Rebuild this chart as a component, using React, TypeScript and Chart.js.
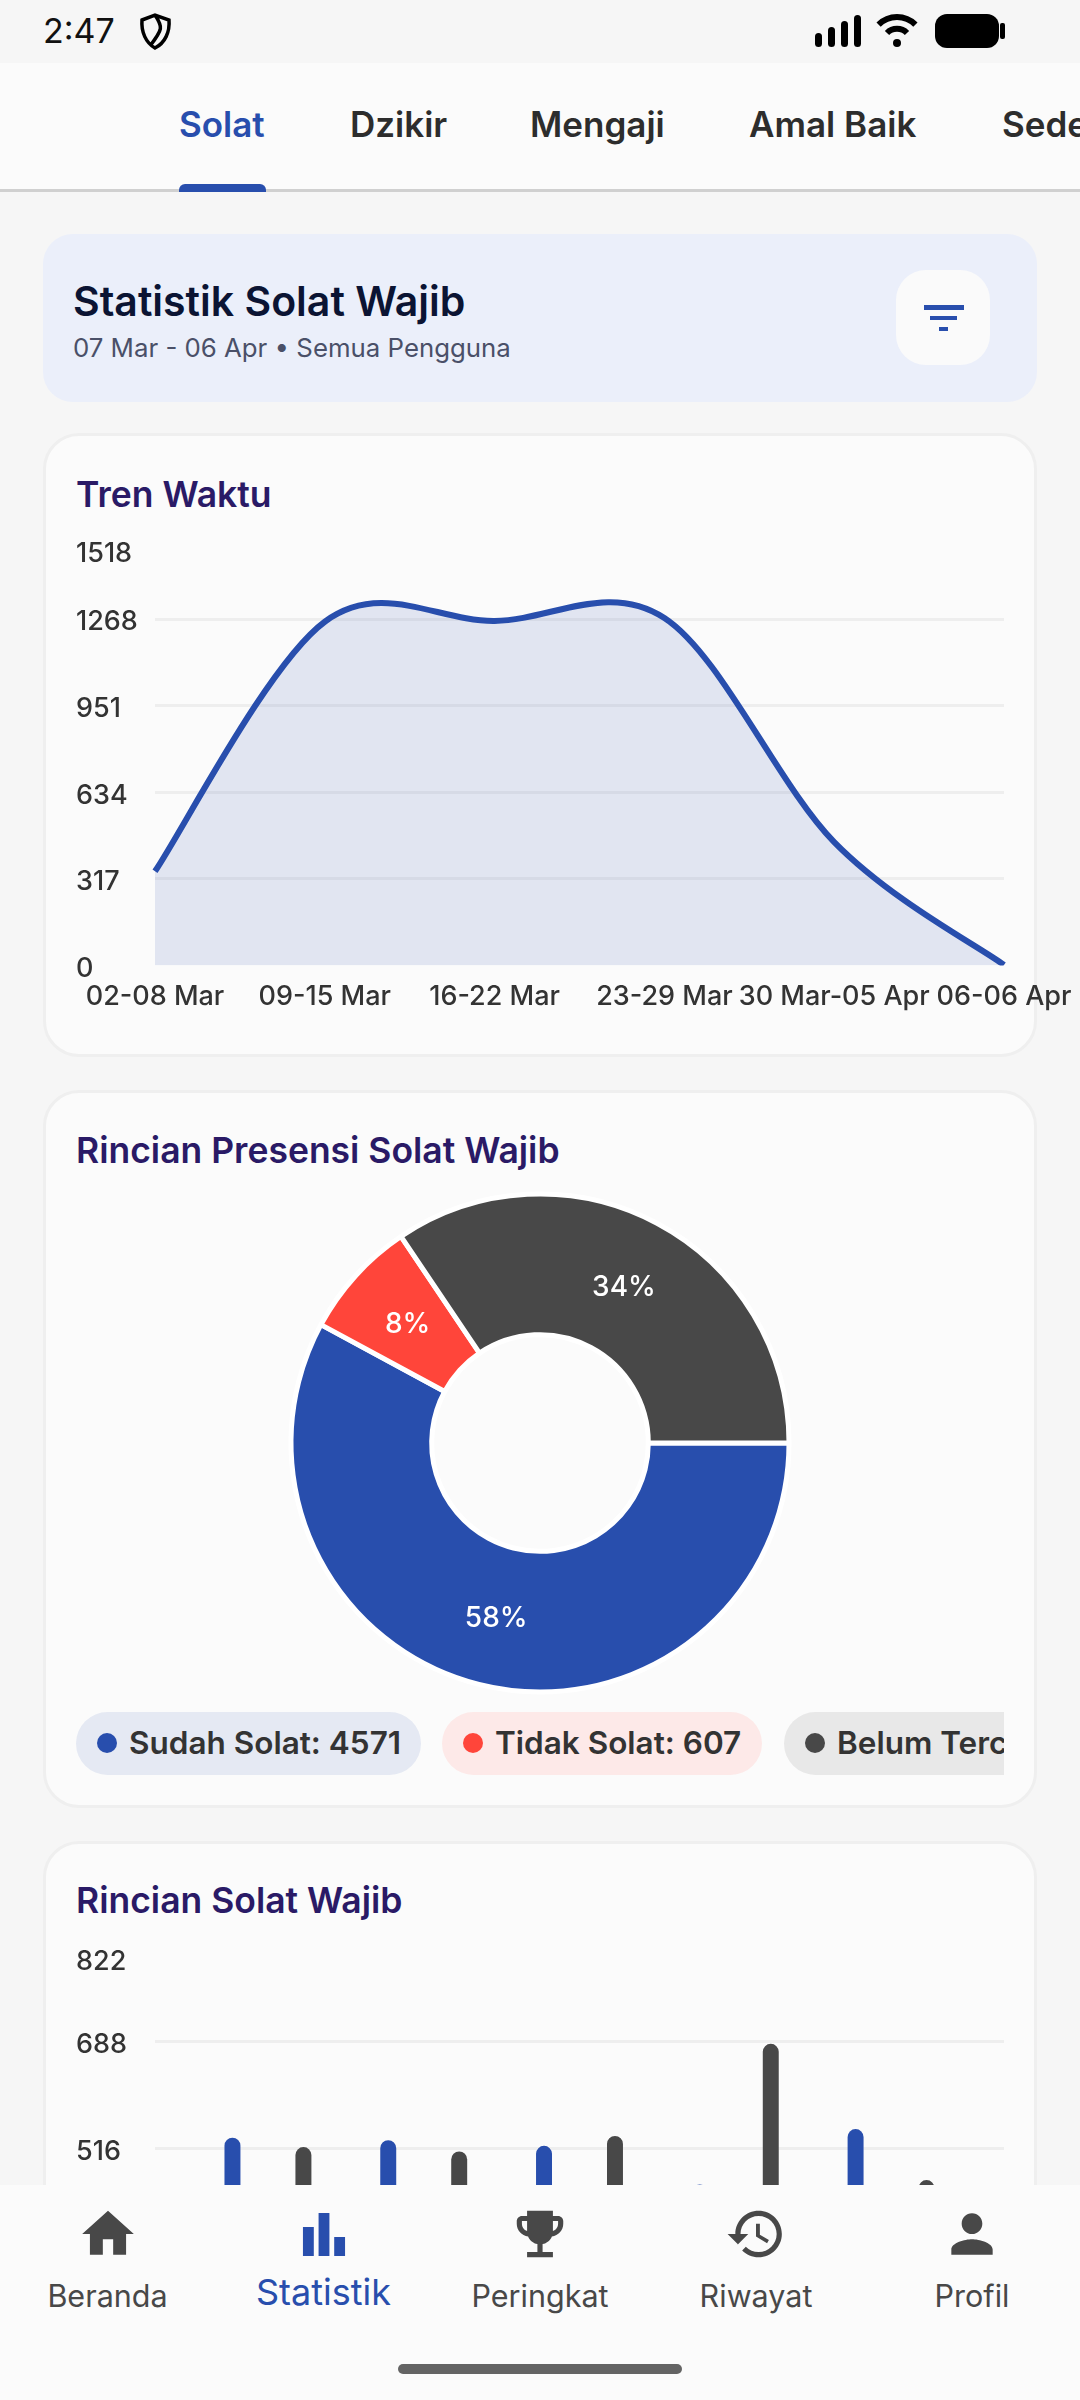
import { useEffect, useRef } from "react";
import Chart from "chart.js/auto";

// ─── Data ─────────────────────────────────────────────────────────────────────
const trendLabels = ["02-08 Mar", "09-15 Mar", "16-22 Mar", "23-29 Mar", "30 Mar-05 Apr", "06-06 Apr"];
const trendValues = [345, 1259, 1262, 1273, 452, 2];
const trendTicks = [0, 317, 634, 951, 1268, 1518];

const presenceLabels = ["Sudah Solat", "Tidak Solat", "Belum Tercatat"];
const presenceValues = [4571, 607, 2719];
const presencePercents = ["58%", "8%", "34%"];
const presenceColors = ["#284EAD", "#FF453A", "#484848"];
const chipColors = ["#E5E9F3", "#FDE9E8", "#E8E8E8"];

const prayerLabels = ["Subuh", "Dzuhur", "Asar", "Magrib", "Isya"];
const prayerDone = [534, 530, 521, 459, 548];
const prayerUnknown = [519, 512, 537, 685, 466];
const prayerTicks = [0, 172, 344, 516, 688, 822];

const tabs = [
  { label: "Solat", x: 179 },
  { label: "Dzikir", x: 350 },
  { label: "Mengaji", x: 530 },
  { label: "Amal Baik", x: 749 },
  { label: "Sedekah", x: 1002 },
];

const navItems = [
  { label: "Beranda", x: 107.5, path: "M10 20v-6h4v6h5v-8h3L12 3 2 12h3v8z" },
  { label: "Statistik", x: 323.5, path: "M3.85 9.3h4.2v11.2H3.85zM9.9 3.9h4.2v16.6H9.9zM15.95 13.2h4.2v7.3h-4.2z" },
  { label: "Peringkat", x: 540, path: "M19 5h-2V3H7v2H5c-1.1 0-2 .9-2 2v1c0 2.55 1.92 4.63 4.39 4.94.63 1.5 1.98 2.63 3.61 2.96V19H7v2h10v-2h-4v-3.1c1.63-.33 2.98-1.46 3.61-2.96C19.08 12.63 21 10.55 21 8V7c0-1.1-.9-2-2-2zM5 8V7h2v3.82C5.84 10.4 5 9.3 5 8zm14 0c0 1.3-.84 2.4-2 2.82V7h2v1z" },
  { label: "Riwayat", x: 756, path: "M13 3c-4.97 0-9 4.03-9 9H1l3.89 3.89.07.14L9 12H6c0-3.87 3.13-7 7-7s7 3.13 7 7-3.13 7-7 7c-1.93 0-3.68-.79-4.94-2.06l-1.42 1.42C8.27 19.99 10.51 21 13 21c4.97 0 9-4.03 9-9s-4.03-9-9-9zm-1 5v5l4.28 2.54.72-1.21-3.5-2.08V8H12z" },
  { label: "Profil", x: 972, path: "M12 12c2.21 0 4-1.79 4-4s-1.79-4-4-4-4 1.79-4 4 1.79 4 4 4zm0 2c-2.67 0-8 1.34-8 4v2h16v-2c0-2.66-5.33-4-8-4z" },
];

// ─── Helpers ──────────────────────────────────────────────────────────────────
const FONT = "Inter, 'Noto Sans', sans-serif";
const BLUE = "#284EAD";

function Text({ x, base, size, weight = 400, color = "#333", center = false, children }: any) {
  // line-height 0 puts the baseline about .36em under the top
  return (
    <span style={{
      position: "absolute", left: x, top: base - size * 0.36, lineHeight: 0, whiteSpace: "nowrap",
      fontSize: size, fontWeight: weight, color,
      transform: center ? "translateX(-50%)" : undefined,
    }}>{children}</span>
  );
}

function ChartCanvas({ left, top, width, height, build }: any) {
  const canvasRef = useRef<HTMLCanvasElement | null>(null);
  useEffect(() => {
    if (!canvasRef.current) return;
    const chart = new Chart(canvasRef.current, build());
    return () => chart.destroy();
  }, []);
  return (
    <div style={{ position: "absolute", left, top, width, height }}>
      <canvas ref={canvasRef} width={width} height={height} />
    </div>
  );
}

const tickFont = { family: FONT, size: 27, weight: 500 };

// crossAlign far puts labels at the axis' left edge, so layout.padding.left sets their x
function valueAxis(ticks: number[]) {
  const top = ticks[ticks.length - 1];
  return {
    min: 0,
    max: top,
    afterBuildTicks: (s: any) => { s.ticks = ticks.map((value) => ({ value })); },
    afterFit: (s: any) => { s.width = 79; },
    border: { display: false },
    grid: {
      drawTicks: false,
      lineWidth: 3,
      color: (c: any) => (c.tick && (c.tick.value === 0 || c.tick.value === top) ? "transparent" : "#EEEEEE"),
    },
    ticks: {
      font: tickFont, color: "#333", padding: 0, crossAlign: "far", labelOffset: 3, autoSkip: false,
      callback: (v: any) => String(v),
    },
  };
}

// The reference curve is an even Catmull-Rom spline; Chart.js' own tension weights by segment length
const evenSpline = {
  id: "evenSpline",
  afterDatasetsUpdate(chart: any) {
    const meta = chart.getDatasetMeta(0);
    meta.dataset.updateControlPoints(chart.chartArea);
    const pts = meta.data;
    pts.forEach((p: any, i: number) => {
      const prev = pts[Math.max(i - 1, 0)];
      const next = pts[Math.min(i + 1, pts.length - 1)];
      const dx = (next.x - prev.x) / 6;
      const dy = (next.y - prev.y) / 6;
      p.cp1x = p.x - dx;
      p.cp1y = p.y - dy;
      p.cp2x = p.x + dx;
      p.cp2y = p.y + dy;
    });
  },
};

// ─── Chart configs ────────────────────────────────────────────────────────────
const trendConfig = () => ({
  type: "line",
  data: {
    labels: trendLabels,
    datasets: [{
      data: trendValues,
      borderColor: BLUE,
      borderWidth: 6,
      backgroundColor: "rgba(40,78,173,0.12)",
      fill: "origin",
      tension: 0.4,
      pointRadius: 0,
    }],
  },
  options: {
    animation: false,
    responsive: false,
    layout: { padding: { top: 21, right: 76, left: 16 } },
    plugins: { legend: { display: false }, tooltip: { enabled: false } },
    scales: {
      x: {
        afterFit: (s: any) => { s.height = 64.5; },
        border: { display: false },
        grid: { display: false },
        ticks: { font: tickFont, color: "#333", autoSkip: false, maxRotation: 0, padding: 7 },
      },
      y: valueAxis(trendTicks),
    },
  },
  plugins: [evenSpline],
});

const percentLabels = {
  id: "percentLabels",
  afterDatasetsDraw(chart: any) {
    const { ctx } = chart;
    ctx.save();
    ctx.font = `500 28px ${FONT}`;
    ctx.fillStyle = "#FFFFFF";
    ctx.textAlign = "center";
    ctx.textBaseline = "middle";
    chart.getDatasetMeta(0).data.forEach((arc: any, i: number) => {
      const p = arc.getCenterPoint();
      ctx.fillText(presencePercents[i], p.x, p.y + 2);
    });
    ctx.restore();
  },
};

const presenceConfig = () => ({
  type: "doughnut",
  data: {
    labels: presenceLabels,
    datasets: [{
      data: presenceValues,
      backgroundColor: presenceColors,
      borderColor: "#FFFFFF",
      borderWidth: 5,
    }],
  },
  options: {
    animation: false,
    responsive: false,
    rotation: 90,
    radius: 249,
    cutout: "43.5%",
    plugins: { legend: { display: false }, tooltip: { enabled: false } },
  },
  plugins: [percentLabels],
});

const toPoints = (values: number[]) => values.map((y, x) => ({ x, y }));

const prayerConfig = () => ({
  type: "bar",
  data: {
    datasets: [
      { label: "Sudah Solat", data: toPoints(prayerDone), backgroundColor: BLUE, borderRadius: 8 },
      { label: "Belum Tercatat", data: toPoints(prayerUnknown), backgroundColor: "#484848", borderRadius: 8 },
    ],
  },
  options: {
    animation: false,
    responsive: false,
    layout: { padding: { top: 28.6, right: 76, left: 16 } },
    categoryPercentage: 0.911,
    barPercentage: 0.225,
    plugins: { legend: { display: false }, tooltip: { enabled: false } },
    scales: {
      x: {
        type: "linear",
        offset: false,
        min: -0.725,
        max: 4.725,
        afterBuildTicks: (s: any) => { s.ticks = prayerLabels.map((_, value) => ({ value })); },
        afterFit: (s: any) => { s.height = 20; },
        border: { display: false },
        grid: { display: false },
        ticks: { display: false, callback: (v: any) => prayerLabels[v] },
      },
      y: valueAxis(prayerTicks),
    },
  },
});

// ─── Pieces of the screen ─────────────────────────────────────────────────────
function Card({ top, height, title, base }: any) {
  return (
    <>
      <div style={{
        position: "absolute", left: 43, top, width: 994, height, boxSizing: "border-box",
        background: "#FBFBFB", border: "3px solid #EFEFEF", borderRadius: 36,
      }} />
      <Text x={76} base={base} size={35.5} weight={600} color="#2A1A66">{title}</Text>
    </>
  );
}

function StatusBar() {
  return (
    <>
      <Text x={43} base={43} size={34} weight={400} color="#111">2:47</Text>
      <svg style={{ position: "absolute", left: 0, top: 0 }} width={1080} height={63}>
        <path d="M142 20 L155 15 L169 20 C170 32 165 43 155 48 C146 43 141 32 142 20 Z M155 15 C163 27 163 29 150 46" fill="none" stroke="#000" strokeWidth={3.5} />
        {[33, 27, 21, 15].map((y, i) => (
          <rect key={i} x={815 + i * 13} y={y} width={7} height={47 - y} rx={3.5} fill="#000" />
        ))}
        <circle cx={897} cy={43} r={4} fill="#000" />
        <path d="M887 33 A14 14 0 0 1 907 33" fill="none" stroke="#000" strokeWidth={6} />
        <path d="M878.6 24.6 A26 26 0 0 1 915.4 24.6" fill="none" stroke="#000" strokeWidth={6} />
        <rect x={935} y={14} width={64} height={34} rx={12} fill="#000" />
        <rect x={1000} y={23} width={5} height={16} rx={2} fill="#000" />
      </svg>
    </>
  );
}

function TabBar() {
  return (
    <>
      <div style={{ position: "absolute", left: 0, top: 63, width: 1080, height: 126, background: "#FBFBFB" }} />
      <div style={{ position: "absolute", left: 0, top: 189, width: 1080, height: 3, background: "#D0D0D0" }} />
      <div style={{ position: "absolute", left: 179, top: 184, width: 87, height: 8, background: BLUE, borderRadius: "6px 6px 0 0" }} />
      {tabs.map((t, i) => (
        <Text key={t.label} x={t.x} base={137} size={35} weight={600} color={i === 0 ? BLUE : "#2D2D2D"}>{t.label}</Text>
      ))}
    </>
  );
}

function Header() {
  return (
    <>
      <div style={{ position: "absolute", left: 43, top: 234, width: 994, height: 168, background: "#EBEFFA", borderRadius: 30 }} />
      <Text x={73} base={316} size={41} weight={600} color="#0B1433">Statistik Solat Wajib</Text>
      <Text x={73} base={357} size={25.8} weight={400} color="#4A5068">07 Mar - 06 Apr • Semua Pengguna</Text>
      <div style={{ position: "absolute", left: 896, top: 270, width: 94, height: 95, background: "#FAFAFA", borderRadius: 30 }} />
      <div style={{ position: "absolute", left: 923.5, top: 305, width: 40, height: 5, background: BLUE }} />
      <div style={{ position: "absolute", left: 930, top: 316, width: 27, height: 4, background: BLUE }} />
      <div style={{ position: "absolute", left: 939, top: 327, width: 9, height: 4, background: BLUE }} />
    </>
  );
}

function Legend() {
  const chips = [
    { left: 76, width: 345 },
    { left: 442, width: 320 },
    { left: 784, width: 340 },
  ];
  return (
    <div style={{ position: "absolute", left: 76, top: 1712, width: 928, height: 63, overflow: "hidden" }}>
      {chips.map((c, i) => (
        <div key={i} style={{ position: "absolute", left: c.left - 76, top: 0, width: c.width, height: 63, background: chipColors[i], borderRadius: 31.5 }}>
          <div style={{ position: "absolute", left: 21, top: 21, width: 20, height: 20, borderRadius: 10, background: presenceColors[i] }} />
          <Text x={53} base={42} size={31.5} weight={600} color="#333">{`${presenceLabels[i]}: ${presenceValues[i]}`}</Text>
        </div>
      ))}
    </div>
  );
}

function BottomNav() {
  return (
    <div style={{ position: "absolute", left: 0, top: 2185, width: 1080, height: 215, background: "#FBFBFB" }}>
      {navItems.map((n, i) => {
        const active = i === 1;
        const color = active ? BLUE : "#484848";
        return (
          <div key={n.label}>
            <svg style={{ position: "absolute", left: n.x - 31, top: 18 }} width={62} height={62} viewBox="0 0 24 24">
              <path d={n.path} fill={color} />
            </svg>
            <Text x={n.x} base={active ? 120 : 122} size={active ? 36 : 30.5} weight={400} color={color} center>{n.label}</Text>
          </div>
        );
      })}
      <div style={{ position: "absolute", left: 398, top: 179, width: 284, height: 10, borderRadius: 5, background: "#646464" }} />
    </div>
  );
}

// ─── Component ────────────────────────────────────────────────────────────────
export default function App() {
  return (
    <>
      <style>{`
        html, body { margin: 0; padding: 0; overflow: hidden; }
      `}</style>
      <div style={{ position: "relative", width: 1080, height: 2400, overflow: "hidden", background: "#F6F6F6", fontFamily: FONT }}>
        <StatusBar />
        <TabBar />
        <Header />

        <Card top={433} height={624} title="Tren Waktu" base={508} />
        <ChartCanvas left={60} top={530} width={1020} height={500} build={trendConfig} />

        <Card top={1090} height={718} title="Rincian Presensi Solat Wajib" base={1164} />
        <ChartCanvas left={280} top={1183} width={520} height={520} build={presenceConfig} />
        <Legend />

        <Card top={1841} height={720} title="Rincian Solat Wajib" base={1914} />
        <ChartCanvas left={60} top={1930} width={1020} height={560} build={prayerConfig} />

        <BottomNav />
      </div>
    </>
  );
}
